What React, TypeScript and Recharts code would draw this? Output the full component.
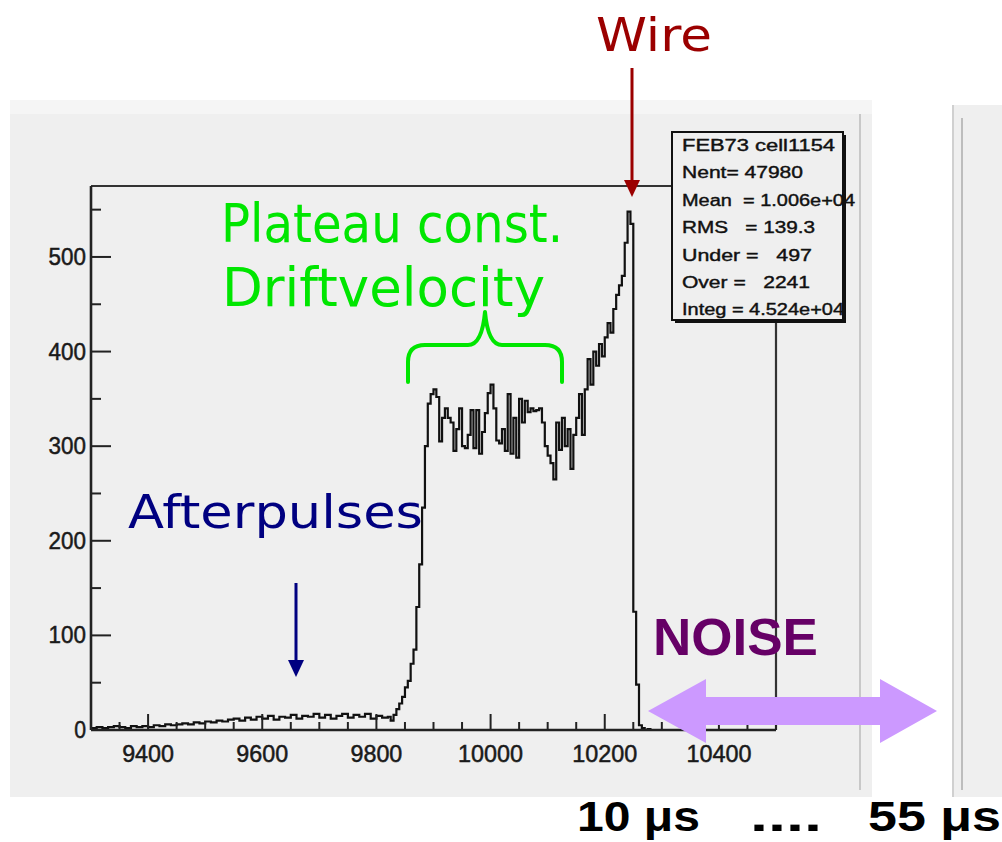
import React from "react"
import { LineChart, Line, XAxis, YAxis } from "recharts"

// histogram FEB73 cell1154 : drift time spectrum
const lowStart = 9300
const lowWidth = 10
const lowCounts = [
  2, 3, 2, 3, 4, 3, 2, 4, 3, 4,
  3, 5, 4, 6, 5, 6, 7, 6, 8, 7,
  9, 8, 10, 9, 11, 12, 10, 13, 11, 14,
  12, 15, 11, 14, 13, 16, 12, 15, 14, 17,
  13, 16, 12, 15, 17, 13, 16, 14, 17, 12,
  15, 13,
]

const peakStart = 9820
const peakWidth = 5
const peakCounts = [
  14, 10, 16, 22, 28, 35, 45, 52, 70, 85, 130, 175, 235, 300,
  345, 355, 360, 352, 305, 330, 340, 330, 325, 295, 318, 340, 300, 298, 312, 338,
  298, 338, 292, 315, 335, 356,
  365, 340, 306, 303, 318, 295, 355, 292, 330, 288, 350, 325, 348, 336, 340, 337,
  338, 340, 325, 300,
  290, 282, 265, 325, 296, 330, 300, 318, 276, 312, 330, 355, 312, 360, 392, 365,
  400, 385, 408, 395,
  415, 430, 420, 445, 460, 470, 480, 515, 548, 535, 125, 48, 5, 2, 0, 1, 0,
]

const xMin = 9300
const xMax = 10500
const yMax = 575
const xTicks = [
  9300, 9350, 9400, 9450, 9500, 9550, 9600, 9650, 9700, 9750, 9800, 9850, 9900, 9950,
  10000, 10050, 10100, 10150, 10200, 10250, 10300, 10350, 10400, 10450, 10500,
]
const xLabels = [9400, 9600, 9800, 10000, 10200, 10400]
const yTicks = [0, 50, 100, 150, 200, 250, 300, 350, 400, 450, 500, 550]
const yLabels = [0, 100, 200, 300, 400, 500]

const statsLines = [
  { text: "FEB73 cell1154", len: 153 },
  { text: "Nent= 47980", len: 121 },
  { text: "Mean  = 1.006e+04", len: 173 },
  { text: "RMS   = 139.3", len: 133 },
  { text: "Under =   497", len: 130 },
  { text: "Over =   2241", len: 128 },
  { text: "Integ = 4.524e+04", len: 162 },
]

const data = [
  ...lowCounts.map((count, i) => ({ x: lowStart + i * lowWidth, count })),
  ...peakCounts.map((count, i) => ({ x: peakStart + i * peakWidth, count })),
  { x: xMax, count: 0 },
]

const axisFont = "'Liberation Sans', Arial, sans-serif"

const YTick = (props: any) => {
  const { x, y, payload } = props
  const v = payload.value
  const major = yLabels.includes(v)
  const s = String(v)
  return (
    <g>
      <line x1={x} y1={y} x2={x + (major ? 20 : 10)} y2={y} stroke="#222" strokeWidth={2} />
      {major && (
        <text
          x={x - 5}
          y={y + 8}
          textAnchor="end"
          fontFamily={axisFont}
          fontSize={23}
          fill="#1a1a1a"
          stroke="#1a1a1a"
          strokeWidth={0.5}
          textLength={s.length * 12.8 - 1}
          lengthAdjust="spacingAndGlyphs"
        >
          {s}
        </text>
      )}
    </g>
  )
}

const XTick = (props: any) => {
  const { x, y, payload } = props
  const v = payload.value
  const major = xLabels.includes(v)
  const s = String(v)
  return (
    <g>
      <line x1={x} y1={y} x2={x} y2={y - (major ? 16 : 8)} stroke="#222" strokeWidth={2} />
      {major && (
        <text
          x={x}
          y={y + 32}
          textAnchor="middle"
          fontFamily={axisFont}
          fontSize={23}
          fill="#1a1a1a"
          stroke="#1a1a1a"
          strokeWidth={0.5}
          textLength={s.length * 13.2 - 1}
          lengthAdjust="spacingAndGlyphs"
        >
          {s}
        </text>
      )}
    </g>
  )
}

const hand = "'DejaVu Sans', 'Open Sans', sans-serif"

export default function App() {
  return (
    <div
      style={{
        position: "absolute",
        left: 0,
        top: 0,
        width: 1002,
        height: 842,
        background: "#ffffff",
        overflow: "hidden",
      }}
    >
      {/* ROOT canvas panels */}
      <div style={{ position: "absolute", left: 10, top: 100, width: 862, height: 697, background: "#efefef" }} />
      <div style={{ position: "absolute", left: 10, top: 100, width: 862, height: 14, background: "#f5f5f5" }} />
      <div style={{ position: "absolute", left: 859, top: 114, width: 2, height: 676, background: "#c8c8c8" }} />
      <div
        style={{
          position: "absolute",
          left: 952,
          top: 105,
          width: 60,
          height: 692,
          background: "#efefef",
          borderLeft: "2px solid #d0d0d0",
        }}
      />
      <div style={{ position: "absolute", left: 961, top: 118, width: 2, height: 672, background: "#bdbdbd" }} />

      <div style={{ position: "absolute", left: 0, top: 0 }}>
        <LineChart
          width={1002}
          height={842}
          data={data}
          margin={{ top: 176, right: 216, bottom: 72, left: 31 }}
        >
          <XAxis
            dataKey="x"
            type="number"
            domain={[xMin, xMax]}
            allowDataOverflow
            ticks={xTicks}
            tick={<XTick />}
            tickLine={false}
            tickSize={0}
            tickMargin={0}
            height={40}
            interval={0}
            axisLine={{ stroke: "#222", strokeWidth: 2.6 }}
          />
          <XAxis
            xAxisId="top"
            orientation="top"
            dataKey="x"
            type="number"
            domain={[xMin, xMax]}
            allowDataOverflow
            tick={false}
            tickLine={false}
            height={10}
            axisLine={{ stroke: "#333", strokeWidth: 2.2 }}
          />
          <YAxis
            type="number"
            domain={[0, yMax]}
            allowDataOverflow
            ticks={yTicks}
            tick={<YTick />}
            tickLine={false}
            tickSize={0}
            tickMargin={0}
            width={60}
            interval={0}
            axisLine={{ stroke: "#222", strokeWidth: 2.6 }}
          />
          <YAxis
            yAxisId="right"
            orientation="right"
            type="number"
            domain={[0, yMax]}
            tick={false}
            tickLine={false}
            width={10}
            axisLine={{ stroke: "#333", strokeWidth: 2.2 }}
          />
          <Line
            dataKey="count"
            type="stepAfter"
            stroke="#111"
            strokeWidth={2.2}
            dot={false}
            activeDot={false}
            isAnimationActive={false}
          />
        </LineChart>
      </div>

      {/* annotations and stats box */}
      <svg width={1002} height={842} style={{ position: "absolute", left: 0, top: 0 }}>
        <g>
          <rect x={675} y={135} width={171} height={188} fill="#111" />
          <rect x={672} y={132} width={171} height={188} fill="#efefef" stroke="#111" strokeWidth={2} />
          {statsLines.map((l, i) => (
            <text
              key={l.text}
              x={682}
              y={151 + i * 27.4}
              fontFamily={axisFont}
              fontSize={16}
              fill="#111"
              stroke="#111"
              strokeWidth={0.4}
              textLength={l.len}
              lengthAdjust="spacingAndGlyphs"
              style={{ whiteSpace: "pre" }}
            >
              {l.text}
            </text>
          ))}
        </g>

        <text x={596} y={51} fontFamily={hand} fontSize={46} fill="#9b0000" textLength={116} lengthAdjust="spacingAndGlyphs">
          Wire
        </text>
        <line x1={632} y1={68} x2={632} y2={182} stroke="#9b0000" strokeWidth={3} />
        <polygon points="624,180 640,180 632,197" fill="#9b0000" />

        <text x={221} y={242} fontFamily={hand} fontSize={53} fill="#00e600" textLength={342} lengthAdjust="spacingAndGlyphs">
          Plateau const.
        </text>
        <text x={222} y={306} fontFamily={hand} fontSize={53} fill="#00e600" textLength={323} lengthAdjust="spacingAndGlyphs">
          Driftvelocity
        </text>
        <path
          d="M408,382 L408,362 Q408,345 425,345 L468,345 Q482,345 485,312 Q488,345 502,345 L545,345 Q562,345 562,362 L562,382"
          fill="none"
          stroke="#00e600"
          strokeWidth={4}
          strokeLinecap="round"
          strokeLinejoin="round"
        />

        <text x={128} y={528} fontFamily={hand} fontSize={46} fill="#000080" textLength={295} lengthAdjust="spacingAndGlyphs">
          Afterpulses
        </text>
        <line x1={296} y1={583} x2={296} y2={662} stroke="#000080" strokeWidth={3} />
        <polygon points="288,660 304,660 296,677" fill="#000080" />

        <text
          x={653}
          y={655}
          fontFamily={axisFont}
          fontWeight="bold"
          fontSize={52}
          fill="#660066"
          textLength={165}
          lengthAdjust="spacingAndGlyphs"
        >
          NOISE
        </text>
        <polygon
          points="648,711 706,679 706,697 880,697 880,679 937,711 880,743 880,725 706,725 706,743"
          fill="#cc99ff"
        />

        <text x={577} y={831} fontFamily={axisFont} fontWeight="bold" fontSize={42} fill="#000" textLength={123} lengthAdjust="spacingAndGlyphs">
          10 μs
        </text>
        <text x={750} y={831} fontFamily={axisFont} fontWeight="bold" fontSize={42} fill="#000" textLength={72} lengthAdjust="spacingAndGlyphs">
          ....
        </text>
        <text x={868} y={831} fontFamily={axisFont} fontWeight="bold" fontSize={42} fill="#000" textLength={133} lengthAdjust="spacingAndGlyphs">
          55 μs
        </text>
      </svg>
    </div>
  )
}
